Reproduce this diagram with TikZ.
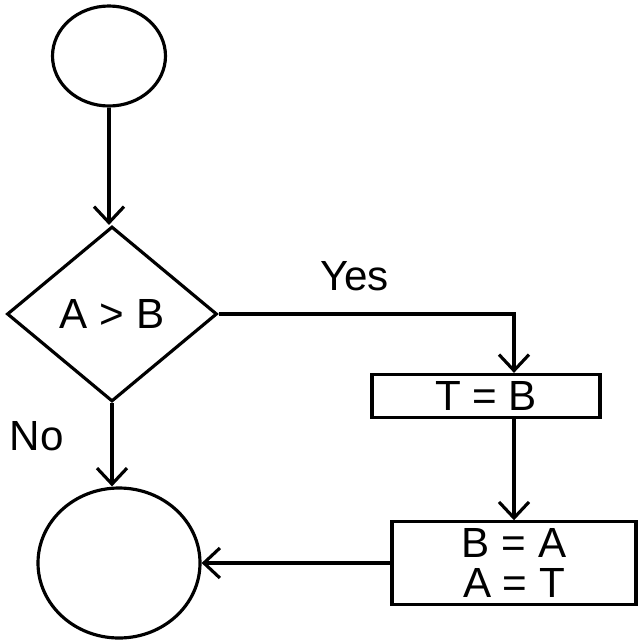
\documentclass[tikz,border=0pt]{standalone}
\usepackage{fontspec}
\setmainfont{Liberation Sans}
\usetikzlibrary{arrows.meta,positioning,calc,shapes.geometric}

\begin{document}
\begin{tikzpicture}[
        x=0.1mm, y=-0.1mm,
        font=\large,
        line width=0.9pt,
        term/.style={draw, ellipse, inner sep=0pt},
        dec/.style={draw, diamond, inner sep=0pt, minimum width=21mm, minimum height=17.5mm},
        box/.style={draw, rectangle, align=center, inner sep=2pt},
        arrow/.style={-{Straight Barb[length=1.6mm, width=3mm]}}
      ]
        \useasboundingbox (0,0) rectangle (640,640);
        \node[term, minimum width=11.3mm, minimum height=10mm] (start) at (109,56) {};
        \node[dec] (cmp) at (112,314) {A > B};
        \node[box, minimum width=22.8mm, minimum height=3.8mm] (tb) at (486,396) {T = B};
        \node[box, minimum width=24.4mm, minimum height=7.5mm] (asg) at (514,563) {B = A\\[-1mm]A = T};
        \node[term, minimum width=16.2mm, minimum height=15mm] (stop) at (119,563) {};
        \draw[arrow] (start) -- (start |- cmp.north);
        \draw[arrow] (cmp.east) -| node[pos=0.23, above=1mm] (yes) {Yes} (tb.north -| asg.north);
        \draw[arrow] (tb.south -| asg.north) -- (asg.north);
        \draw[arrow] (asg.west) -- (stop.east);
        \draw[arrow] (cmp.south) -- node[pos=0.4, left=3.5mm] (no) {No} (stop.north -| cmp.south);
      \end{tikzpicture}
\end{document}
